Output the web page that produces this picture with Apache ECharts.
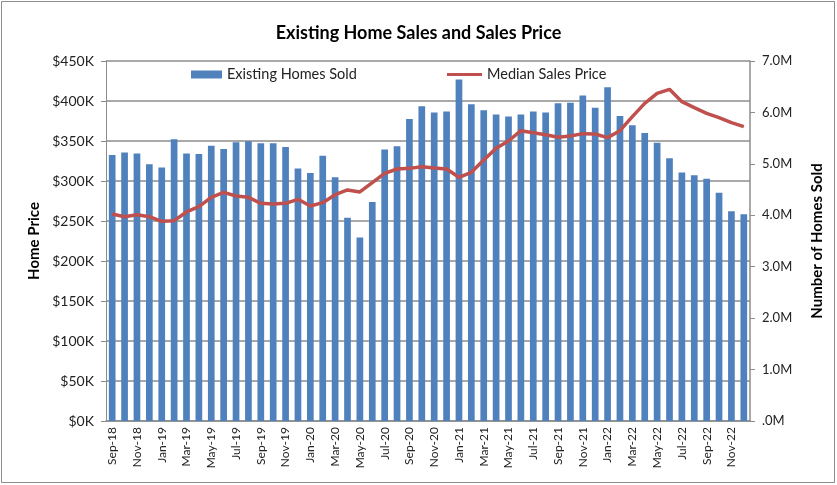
<!DOCTYPE html>
<html>
<head>
<meta charset="utf-8">
<script src="https://cdn.jsdelivr.net/npm/echarts@6/dist/echarts.min.js"></script>
<style>
html, body { margin: 0; padding: 0; background: #fff; }
#main { width: 837px; height: 485px; }
</style>
</head>
<body>
<div id="main"></div>
<script>
// months, Sep-18 .. Dec-22
var months = ['Sep-18','Oct-18','Nov-18','Dec-18',
  'Jan-19','Feb-19','Mar-19','Apr-19','May-19','Jun-19','Jul-19','Aug-19','Sep-19','Oct-19','Nov-19','Dec-19',
  'Jan-20','Feb-20','Mar-20','Apr-20','May-20','Jun-20','Jul-20','Aug-20','Sep-20','Oct-20','Nov-20','Dec-20',
  'Jan-21','Feb-21','Mar-21','Apr-21','May-21','Jun-21','Jul-21','Aug-21','Sep-21','Oct-21','Nov-21','Dec-21',
  'Jan-22','Feb-22','Mar-22','Apr-22','May-22','Jun-22','Jul-22','Aug-22','Sep-22','Oct-22','Nov-22','Dec-22'];

// existing homes sold (millions)
var homesSold = [5.17,5.22,5.20,4.99,
  4.93,5.48,5.20,5.19,5.35,5.29,5.42,5.44,5.40,5.40,5.33,4.91,
  4.82,5.16,4.74,3.95,3.57,4.26,5.28,5.34,5.87,6.12,6.00,6.02,
  6.64,6.16,6.04,5.96,5.92,5.96,6.02,6.00,6.18,6.19,6.33,6.09,
  6.49,5.93,5.75,5.60,5.41,5.11,4.83,4.78,4.71,4.44,4.08,4.02];

// median sales price ($K)
var medianPrice = [258.7,255.4,257.9,255.4,
  249.6,250.4,261.3,267.9,279.6,285.8,281.3,279.6,272.1,271.3,272.1,277.1,
  268.8,272.9,282.9,288.8,286.3,297.9,309.6,315.0,315.8,317.9,316.3,315.0,
  304.6,310.8,326.3,340.8,350.0,362.9,360.4,357.9,354.6,356.3,359.2,358.8,
  354.2,362.9,380.4,397.1,409.6,414.6,399.2,391.7,384.6,379.2,372.9,367.9];

var font = 'Lato, "Open Sans", sans-serif';
var myChart = echarts.init(document.getElementById('main'));

var option = {
    backgroundColor: '#fff',
    animation: false,
    textStyle: { fontFamily: font },
    title: {
        text: 'Existing Home Sales and Sales Price',
        left: 'center',
        top: 19,
        textStyle: { fontSize: 18, fontWeight: 'bold', color: '#000', fontFamily: font }
    },
    graphic: [{
        type: 'rect',
        shape: { x: 1.5, y: 1.5, width: 833, height: 481 },
        style: { fill: 'none', stroke: '#8c8c8c', lineWidth: 1 }
    }],
    legend: [{
        data: [{ name: 'Existing Homes Sold', icon: 'rect' }],
        left: 186, top: 62,
        itemWidth: 31, itemHeight: 8,
        itemGap: 4,
        textStyle: { fontSize: 14.5, color: '#222', fontFamily: font }
    }, {
        data: [{ name: 'Median Sales Price', icon: 'rect' }],
        left: 442, top: 62,
        itemWidth: 35, itemHeight: 3,
        textStyle: { fontSize: 14.5, color: '#222', fontFamily: font }
    }],
    grid: { left: 106, right: 87, top: 61, bottom: 64 },
    xAxis: {
        type: 'category',
        data: months,
        axisLine: { lineStyle: { color: '#8c8c8c', width: 1.5 } },
        axisTick: { show: false },
        axisLabel: { interval: 1, rotate: 90, fontSize: 12, color: '#222', fontFamily: font, margin: 6 }
    },
    yAxis: [{
        type: 'value',
        min: 0, max: 450, interval: 50,
        name: 'Home Price',
        nameLocation: 'middle',
        nameRotate: 90,
        nameGap: 62,
        nameTextStyle: { fontSize: 15, fontWeight: 'bold', color: '#000', fontFamily: font },
        axisLine: { show: true, lineStyle: { color: '#8c8c8c' } },
        axisTick: { show: true, length: 5, lineStyle: { color: '#8c8c8c' } },
        splitLine: { lineStyle: { color: '#8c8c8c', width: 1.5 } },
        axisLabel: {
            fontSize: 14, color: '#222', fontFamily: font, margin: 12,
            formatter: function (v) { return '$' + v + 'K'; }
        }
    }, {
        type: 'value',
        min: 0, max: 7, interval: 1,
        name: 'Number of Homes Sold',
        nameLocation: 'middle',
        nameRotate: 90,
        nameGap: 60,
        nameTextStyle: { fontSize: 15, fontWeight: 'bold', color: '#000', fontFamily: font },
        axisLine: { show: true, lineStyle: { color: '#8c8c8c', width: 1.5 } },
        axisTick: { show: true, length: 5, lineStyle: { color: '#8c8c8c' } },
        splitLine: { show: false },
        axisLabel: {
            fontSize: 13, color: '#222', fontFamily: font, margin: 12,
            formatter: function (v) { return v === 0 ? '.0M' : v.toFixed(1) + 'M'; }
        }
    }],
    series: [{
        name: 'Existing Homes Sold',
        type: 'bar',
        yAxisIndex: 1,
        data: homesSold,
        barCategoryGap: '46%',
        itemStyle: { color: '#4F81BD' }
    }, {
        name: 'Median Sales Price',
        type: 'line',
        yAxisIndex: 0,
        data: medianPrice,
        showSymbol: false,
        symbol: 'none',
        lineStyle: { color: '#C0504D', width: 3.5 },
        itemStyle: { color: '#C0504D' }
    }]
};

myChart.setOption(option);
</script>
</body>
</html>
